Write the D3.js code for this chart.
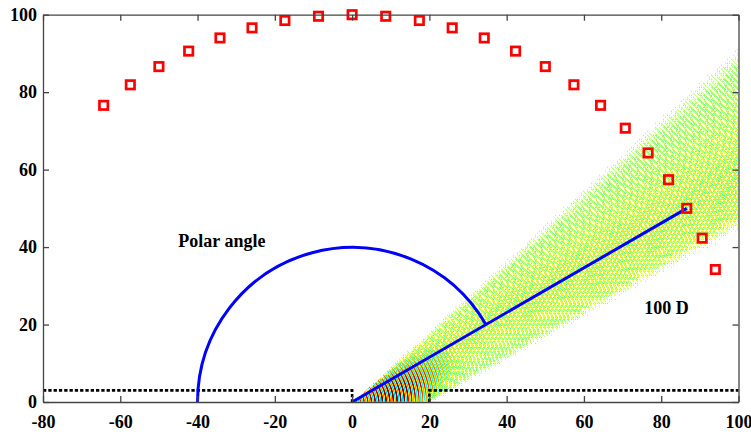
<!DOCTYPE html>
<html>
<head>
<meta charset="utf-8">
<script src="https://cdn.jsdelivr.net/npm/d3@7"></script>
<style>
  html, body { margin: 0; padding: 0; background: #fff; }
  svg { display: block; }
  .tick text { font-family: "Liberation Serif", "Times New Roman", serif; font-weight: bold; font-size: 18px; fill: #000; }
</style>
</head>
<body>
<svg id="chart" width="751" height="432"></svg>
<script>
// Far-field sample points (red squares), radius 100
const sampleX = [-64.3, -57.4, -50.0, -42.3, -34.2, -25.9, -17.4, -8.7, 0.0, 8.7, 17.4, 25.9,
                 34.2, 42.3, 50.0, 57.4, 64.3, 70.7, 76.6, 81.9, 86.6, 90.6, 94.0];
const sampleY = [76.6, 81.9, 86.6, 90.6, 94.0, 96.6, 98.5, 99.6, 100.0, 99.6, 98.5, 96.6,
                 94.0, 90.6, 86.6, 81.9, 76.6, 70.7, 64.3, 57.4, 50.0, 42.3, 34.2];

// Axis ticks
const xTicks = [-80, -60, -40, -20, 0, 20, 40, 60, 80, 100];
const yTicks = [0, 20, 40, 60, 80, 100];

// Baffle outline (dotted), with the aperture between x = 0 and x = 20
const wallLeftX = [-80, 0, 0];
const wallLeftY = [3, 3, 0];
const wallRightX = [20, 20, 100];
const wallRightY = [0, 3, 3];

// Steering direction and polar-angle marker
const beamAngleDeg = 30;
const beamLength = 100;
const polarRadius = 40;
const polarStartDeg = 180;

// Annotations
const labelText = ["Polar angle", "100 D"];
const labelX = [-45, 75.6];
const labelY = [40.0, 22.7];

// Beam field model parameters
const wavelength = 0.95;
const upperEdgeSlope = 0.225;   // v/u at upper edge of the beam
const lowerEdgeOffset = -10.2;  // v at lower edge
const lowerEdgeSlope = -0.015;

const svg = d3.select("#chart");
const X0 = 43, X1 = 738.5, Y0 = 402, Y1 = 14.7;
const xs = d3.scaleLinear().domain([-80, 100]).range([X0, X1]);
const ys = d3.scaleLinear().domain([0, 100]).range([Y0, Y1]);

// ---- beam field raster ----
function clamp01(t) { return t < 0 ? 0 : t > 1 ? 1 : t; }
function jet(t) {
  t = clamp01(t);
  return [clamp01(1.5 - Math.abs(4 * t - 3)), clamp01(1.5 - Math.abs(4 * t - 2)), clamp01(1.5 - Math.abs(4 * t - 1))];
}
const bayer = [[0, 8, 2, 10], [12, 4, 14, 6], [3, 11, 1, 9], [15, 7, 13, 5]];

const W = Math.ceil(X1 - X0), H = Math.ceil(Y0 - Y1);
const canvas = document.createElement("canvas");
canvas.width = W; canvas.height = H;
const ctx = canvas.getContext("2d");
const img = ctx.createImageData(W, H);
const th = beamAngleDeg * Math.PI / 180;
const ct = Math.cos(th), st = Math.sin(th);
for (let j = 0; j < H; j++) {
  for (let i = 0; i < W; i++) {
    const x = xs.invert(X0 + i + 0.5);
    const y = ys.invert(Y1 + j + 0.5);
    if (y < 0) continue;
    const u = x * ct + y * st;
    const v = -x * st + y * ct;
    const vUp = upperEdgeSlope * u;
    const vLo = lowerEdgeOffset + lowerEdgeSlope * u;
    const dUp = vUp - v, dLo = v - vLo;
    if (dUp < 0 || dLo < 0) continue;
    const w = 0.6 + 0.035 * u;
    const fade = clamp01(Math.min(dUp, dLo) / w);
    const r = Math.hypot(x, y);
    const s = Math.sin(2 * Math.PI * r / wavelength);
    const near = Math.exp(-Math.pow((u - 9) / 12, 2) - Math.pow((v + 4.5) / 5, 2));
    const center = Math.exp(-Math.pow(v / (3 + 0.12 * u), 2));
    const amp = 0.06 + 0.09 * center + 0.32 * near;
    const c = 0.48 + 0.04 * center + 0.24 * near + amp * s;
    const dens = fade * Math.min(1, 0.5 + 0.3 * center + 0.6 * s + 2.5 * near);
    const thr = (bayer[j % 4][i % 4] + 0.5) / 16;
    if (dens <= thr) continue;
    const rgb = jet(c);
    const k = (j * W + i) * 4;
    img.data[k] = Math.round(rgb[0] * 255);
    img.data[k + 1] = Math.round(rgb[1] * 255);
    img.data[k + 2] = Math.round(rgb[2] * 255);
    img.data[k + 3] = 255;
  }
}
ctx.putImageData(img, 0, 0);

svg.append("defs").append("clipPath").attr("id", "plotclip")
  .append("rect").attr("x", X0).attr("y", Y1).attr("width", X1 - X0).attr("height", Y0 - Y1);

svg.append("image")
  .attr("x", X0).attr("y", Y1).attr("width", W).attr("height", H)
  .attr("preserveAspectRatio", "none")
  .attr("clip-path", "url(#plotclip)")
  .attr("href", canvas.toDataURL());

// ---- baffle (dotted black) ----
const line = d3.line().x(d => xs(d[0])).y(d => ys(d[1]));
[[wallLeftX, wallLeftY], [wallRightX, wallRightY]].forEach(([wx, wy]) => {
  svg.append("path")
    .attr("d", line(wx.map((d, k) => [d, wy[k]])))
    .attr("fill", "none").attr("stroke", "#000")
    .attr("stroke-width", 2.6).attr("stroke-dasharray", "3.3,2");
});

// ---- polar angle arc and steering line (blue) ----
const rpx = xs(polarRadius) - xs(0);
const p = d3.path();
p.arc(xs(0), ys(0), rpx, polarStartDeg * Math.PI / 180, 2 * Math.PI - th);
svg.append("path").attr("d", p.toString())
  .attr("fill", "none").attr("stroke", "#0000ff").attr("stroke-width", 3);
svg.append("path")
  .attr("d", line([[0, 0], [beamLength * ct, beamLength * st]]))
  .attr("fill", "none").attr("stroke", "#0000ff").attr("stroke-width", 3);

// ---- red squares ----
svg.append("g").selectAll("rect").data(sampleX.map((d, k) => [d, sampleY[k]]))
  .join("rect")
  .attr("x", d => xs(d[0]) - 4.2).attr("y", d => ys(d[1]) - 4.2)
  .attr("width", 8.4).attr("height", 8.4)
  .attr("fill", "none").attr("stroke", "#ff0000").attr("stroke-width", 2.7);

// ---- axes (box with inward ticks) ----
const axisColor = "#444";
const fmt = d => String(d);
function styleAxis(g) {
  g.select(".domain").attr("stroke", axisColor).attr("stroke-width", 1.3);
  g.selectAll(".tick line").attr("stroke", axisColor).attr("stroke-width", 1.3);
}
svg.append("g").attr("transform", `translate(0,${Y0})`)
  .call(d3.axisBottom(xs).tickValues(xTicks).tickSizeInner(-6).tickSizeOuter(0).tickPadding(13).tickFormat(fmt))
  .call(styleAxis).call(g => g.selectAll("text").attr("fill", "#000"));
svg.append("g").attr("transform", `translate(${X0},0)`)
  .call(d3.axisLeft(ys).tickValues(yTicks).tickSizeInner(-6).tickSizeOuter(0).tickPadding(6).tickFormat(fmt))
  .call(styleAxis).call(g => g.selectAll("text").attr("fill", "#000"));
svg.append("g").attr("transform", `translate(0,${Y1})`)
  .call(d3.axisTop(xs).tickValues(xTicks).tickSizeInner(-6).tickSizeOuter(0).tickFormat(""))
  .call(styleAxis);
svg.append("g").attr("transform", `translate(${X1},0)`)
  .call(d3.axisRight(ys).tickValues(yTicks).tickSizeInner(-6).tickSizeOuter(0).tickFormat(""))
  .call(styleAxis);
svg.selectAll(".tick text").attr("font-family", null).attr("font-size", null);

// ---- annotations ----
svg.append("g").selectAll("text").data(labelText)
  .join("text")
  .attr("x", (d, k) => xs(labelX[k])).attr("y", (d, k) => ys(labelY[k]))
  .attr("font-family", "Liberation Serif, Times New Roman, serif")
  .attr("font-weight", "bold").attr("font-size", 18).attr("fill", "#000")
  .text(d => d);
</script>
</body>
</html>
